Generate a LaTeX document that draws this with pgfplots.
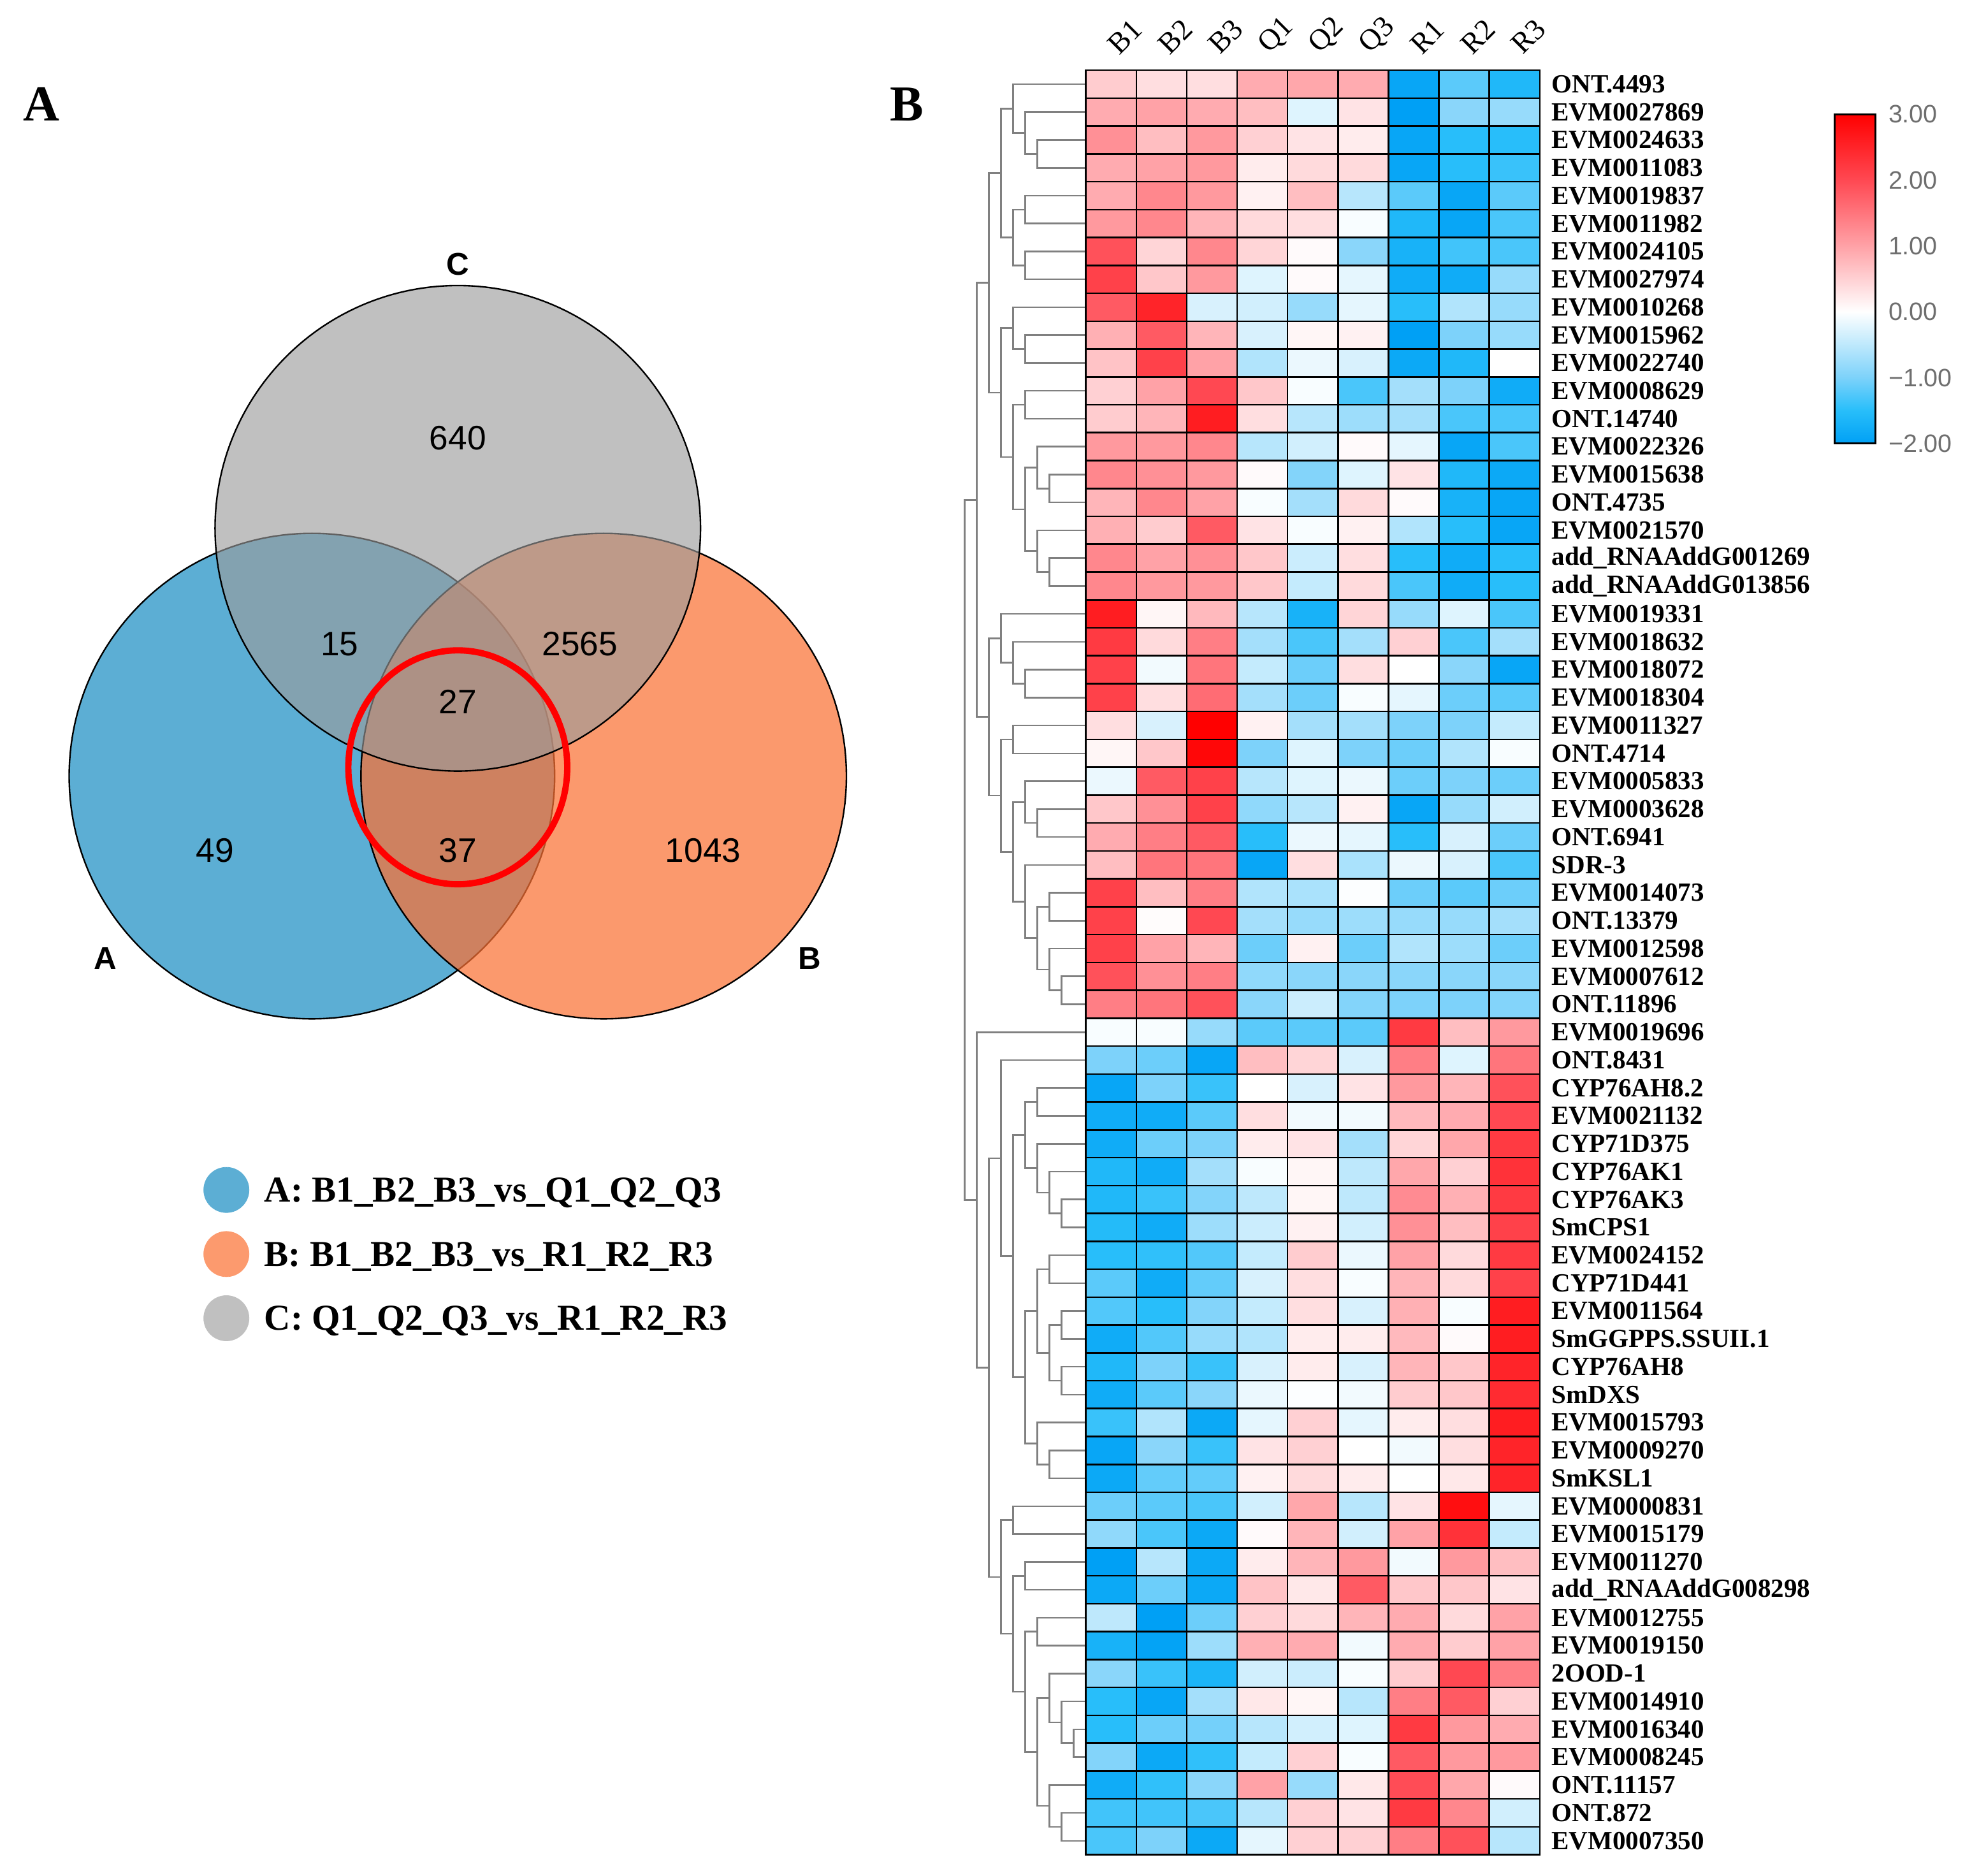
\documentclass[border=0pt]{standalone}
\usepackage{fontspec}
\setmainfont{Liberation Serif}
\newfontfamily\arial{Liberation Sans}
\usepackage{pgfplots}
\usepackage{pgfplotstable}
\pgfplotsset{compat=1.18}

\definecolor{vennA}{RGB}{92,174,212}
\definecolor{vennB}{RGB}{250,113,52}
\definecolor{vennC}{RGB}{155,155,155}
\definecolor{legA}{RGB}{92,174,212}
\definecolor{legB}{RGB}{252,154,110}
\definecolor{legC}{RGB}{192,192,192}
\definecolor{dgray}{RGB}{128,128,128}
\definecolor{tickgray}{RGB}{110,110,110}

\newcommand{\fs}[1]{\fontsize{#1}{#1}\selectfont}

\pgfplotsset{
  hmap/.style={colormap={hm}{rgb255(0pt)=(0,160,245); rgb255(0.5pt)=(40,190,250); rgb255(1pt)=(125,210,250);
      rgb255(2pt)=(255,255,255); rgb255(3pt)=(255,162,167); rgb255(4pt)=(255,72,82); rgb255(5pt)=(255,0,0)},
    point meta min=-2, point meta max=3},
}

% z-scores, one line per gene (row 1 = top of heatmap)
\pgfplotstableread{
row B1 B2 B3 Q1 Q2 Q3 R1 R2 R3
1 0.55 0.35 0.35 0.9 0.95 0.9 -1.9 -1.2 -1.6
2 0.9 1.0 0.9 0.7 -0.25 0.3 -2.1 -0.9 -0.8
3 1.2 0.7 1.1 0.5 0.3 0.2 -1.9 -1.5 -1.5
4 0.9 1.0 1.1 0.2 0.4 0.4 -1.9 -1.5 -1.4
5 0.9 1.3 1.1 0.15 0.7 -0.55 -1.2 -1.9 -1.2
6 1.1 1.3 0.8 0.4 0.35 -0.05 -1.6 -1.9 -1.3
7 1.9 0.45 1.3 0.45 0.05 -0.9 -1.7 -1.35 -1.3
8 2.1 0.6 1.1 -0.25 0.05 -0.2 -1.8 -1.8 -0.8
9 1.8 2.5 -0.3 -0.35 -0.8 -0.2 -1.5 -0.6 -0.8
10 0.85 1.8 0.8 -0.3 0.1 0.15 -2.0 -1.0 -0.8
11 0.65 2.1 1.0 -0.6 -0.15 -0.3 -1.85 -1.6 0.0
12 0.5 1.0 2.0 0.6 -0.05 -1.3 -0.7 -1.0 -1.8
13 0.55 0.8 2.6 0.35 -0.55 -0.75 -0.7 -1.3 -1.3
14 1.1 1.1 1.3 -0.55 -0.35 0.05 -0.2 -1.9 -1.3
15 1.3 1.2 1.1 0.05 -0.95 -0.25 0.3 -1.6 -1.85
16 0.8 1.3 1.0 -0.05 -0.7 0.4 0.05 -1.7 -1.9
17 0.85 0.55 1.8 0.3 -0.05 0.15 -0.6 -1.5 -1.9
18 1.3 1.0 1.2 0.6 -0.4 0.35 -1.5 -1.8 -1.5
19 1.3 1.1 1.1 0.6 -0.45 0.4 -1.3 -1.8 -1.5
20 2.6 0.1 0.75 -0.55 -1.7 0.45 -0.8 -0.25 -1.3
21 2.2 0.4 1.4 -0.7 -1.3 -0.7 0.5 -1.3 -0.7
22 2.1 -0.1 1.5 -0.45 -1.1 0.35 0.0 -0.9 -1.9
23 2.1 0.35 1.6 -0.7 -1.1 -0.05 -0.2 -1.1 -1.2
24 0.35 -0.3 3.0 0.15 -0.7 -0.7 -1.0 -1.0 -0.45
25 0.1 0.6 2.9 -1.0 -0.25 -1.0 -1.1 -0.6 -0.05
26 -0.15 1.8 2.1 -0.55 -0.25 -0.15 -1.1 -1.0 -1.1
27 0.6 1.2 2.1 -0.85 -0.55 0.15 -1.9 -0.8 -0.35
28 0.9 1.4 1.8 -1.5 -0.15 -0.2 -1.5 -0.3 -1.1
29 0.7 1.5 1.5 -1.9 0.35 -0.65 -0.15 -0.3 -1.3
30 2.1 0.7 1.4 -0.6 -0.65 -0.02 -1.1 -1.2 -1.1
31 2.1 0.03 2.0 -0.7 -0.8 -0.75 -0.8 -0.8 -0.7
32 2.1 1.0 0.8 -1.1 0.15 -1.1 -0.6 -0.75 -1.1
33 1.9 1.2 1.4 -0.85 -0.9 -0.9 -0.9 -0.9 -0.9
34 1.4 1.5 1.9 -0.9 -0.4 -0.95 -1.0 -1.0 -0.95
35 -0.05 -0.05 -0.8 -1.2 -1.2 -1.2 2.2 0.7 1.1
36 -1.0 -1.1 -1.9 0.7 0.45 -0.3 1.4 -0.25 1.5
37 -1.9 -1.0 -1.4 0.0 -0.3 0.3 1.1 0.8 1.9
38 -1.8 -1.8 -1.2 0.35 -0.1 -0.1 0.75 0.9 2.0
39 -1.8 -1.1 -1.0 0.2 0.3 -0.7 0.45 0.95 2.2
40 -1.6 -1.8 -0.7 -0.05 0.1 -0.5 0.95 0.5 2.3
41 -1.6 -1.4 -0.95 -0.5 0.1 -0.5 1.25 0.85 2.2
42 -1.55 -1.8 -0.75 -0.4 0.15 -0.35 1.2 0.7 2.1
43 -1.5 -1.45 -1.25 -0.45 0.55 -0.15 1.0 0.4 2.2
44 -1.2 -1.8 -1.15 -0.3 0.35 -0.05 0.8 0.4 2.1
45 -1.25 -1.5 -0.95 -0.45 0.35 -0.3 0.85 -0.05 2.6
46 -1.8 -1.25 -0.8 -0.6 0.2 0.2 0.75 0.05 2.6
47 -1.6 -1.0 -1.4 -0.3 0.2 -0.3 0.8 0.6 2.5
48 -1.8 -1.2 -0.9 -0.15 -0.02 -0.1 0.55 0.6 2.4
49 -1.4 -0.6 -1.85 -0.2 0.5 -0.2 0.2 0.35 2.6
50 -1.9 -0.9 -1.4 0.3 0.5 0.0 -0.1 0.35 2.5
51 -1.85 -1.15 -1.15 0.15 0.4 0.2 0.0 0.25 2.5
52 -1.1 -1.2 -1.3 -0.35 0.95 -0.55 0.3 2.8 -0.2
53 -0.85 -1.3 -1.85 0.05 0.8 -0.35 1.0 2.3 -0.45
54 -2.0 -0.55 -1.85 0.2 0.8 1.1 -0.1 1.1 0.7
55 -1.85 -1.1 -1.85 0.65 0.25 1.8 0.6 0.6 0.3
56 -0.5 -2.1 -1.1 0.5 0.4 0.8 0.9 0.4 1.0
57 -1.7 -1.95 -0.75 0.85 0.9 -0.1 0.9 0.55 1.0
58 -0.9 -1.4 -1.65 -0.35 -0.4 -0.05 0.55 2.0 1.4
59 -1.5 -1.9 -0.7 0.25 0.1 -0.55 1.4 1.8 0.5
60 -1.5 -1.1 -1.05 -0.55 -0.35 -0.25 2.2 1.1 0.9
61 -0.95 -1.85 -1.45 -0.45 0.5 -0.05 1.8 1.1 1.1
62 -1.8 -1.45 -0.9 1.0 -0.8 0.25 1.95 0.95 0.05
63 -1.35 -1.35 -1.3 -0.55 0.5 0.3 2.2 1.3 -0.35
64 -1.3 -1.0 -1.85 -0.2 0.5 0.5 1.4 1.9 -0.55
}\hm

\begin{document}
\begin{tikzpicture}[x=1pt,y=1pt]
\useasboundingbox (0,0) rectangle (1568,-1491);
\coordinate (cbpos) at (1458.6,-90.8);

% ---- panel A: Venn diagram (canvas axis, 1 unit = 1pt, y downwards)
\begin{axis}[at={(0pt,0pt)}, anchor=north west, scale only axis,
    width=1568pt, height=1491pt, xmin=0, xmax=1568, ymin=0, ymax=1491,
    y dir=reverse, hide axis, clip=false]
\addplot[only marks, mark=*, mark size=193pt,
    mark options={draw=black, fill=vennA, line width=1.2pt}] coordinates {(248,617)};
\addplot[only marks, mark=*, mark size=193pt,
    mark options={draw=black, fill=vennB, fill opacity=0.72, line width=1.2pt}] coordinates {(480,617)};
\addplot[only marks, mark=*, mark size=193pt,
    mark options={draw=black, fill=vennC, fill opacity=0.632, line width=1.2pt}] coordinates {(364,420)};
\addplot[only marks, mark=o, mark size=90pt,
    mark options={draw=red, line width=5pt, xscale=0.967, yscale=1.033}] coordinates {(364,610)};
% legend dots
\addplot[only marks, mark=*, mark size=18pt, mark options={draw=legA, fill=legA}] coordinates {(180,946)};
\addplot[only marks, mark=*, mark size=18pt, mark options={draw=legB, fill=legB}] coordinates {(180,997)};
\addplot[only marks, mark=*, mark size=18pt, mark options={draw=legC, fill=legC}] coordinates {(180,1048)};
\end{axis}

% Venn texts, on top of the circles (picture coords: x right, -y down)
\begin{scope}[font=\arial\fs{27}]
\node at (364,-348) {640};
\node at (270,-512) {15};
\node at (461,-512) {2565};
\node at (364,-558) {27};
\node at (171,-676) {49};
\node at (364,-676) {37};
\node at (559,-676) {1043};
\end{scope}
\node[font=\arial\bfseries\fs{25}] at (364,-210) {C};
\node[font=\arial\bfseries\fs{25}] at (84,-762) {A};
\node[font=\arial\bfseries\fs{25}] at (644,-762) {B};
\node[font=\bfseries\fs{40}] at (33,-83) {A};
\node[font=\bfseries\fs{40}] at (721,-83) {B};
\node[anchor=base west, inner sep=0pt, font=\bfseries\fs{29}] at (210,-955.6) {A: B1\_B2\_B3\_vs\_Q1\_Q2\_Q3};
\node[anchor=base west, inner sep=0pt, font=\bfseries\fs{29}] at (210,-1006.6) {B: B1\_B2\_B3\_vs\_R1\_R2\_R3};
\node[anchor=base west, inner sep=0pt, font=\bfseries\fs{29}] at (210,-1057.6) {C: Q1\_Q2\_Q3\_vs\_R1\_R2\_R3};

% ---- panel B: row dendrogram
\begin{axis}[at={(863.4pt,-55.8pt)}, anchor=north east, scale only axis,
    width=96.4pt, height=1418.8pt, xmin=0, xmax=10, x dir=reverse,
    ymin=0.5, ymax=64.5, y dir=reverse, hide axis, clip=false]
\addplot[dgray, line width=1.3pt, no markers, unbounded coords=jump] coordinates {
(0,3) (4,3) (4,4) (0,4) (nan,nan)
(0,2) (5,2) (5,3.5) (4,3.5) (nan,nan)
(0,1) (6,1) (6,2.75) (5,2.75) (nan,nan)
(0,5) (5,5) (5,6) (0,6) (nan,nan)
(0,7) (5,7) (5,8) (0,8) (nan,nan)
(5,5.5) (6,5.5) (6,7.5) (5,7.5) (nan,nan)
(6,1.875) (7,1.875) (7,6.5) (6,6.5) (nan,nan)
(0,10) (5,10) (5,11) (0,11) (nan,nan)
(0,9) (6,9) (6,10.5) (5,10.5) (nan,nan)
(0,12) (5,12) (5,13) (0,13) (nan,nan)
(0,15) (3,15) (3,16) (0,16) (nan,nan)
(0,14) (4,14) (4,15.5) (3,15.5) (nan,nan)
(0,18) (3,18) (3,19) (0,19) (nan,nan)
(0,17) (4,17) (4,18.5) (3,18.5) (nan,nan)
(4,14.75) (5,14.75) (5,17.75) (4,17.75) (nan,nan)
(5,12.5) (6,12.5) (6,16.25) (5,16.25) (nan,nan)
(6,9.75) (7,9.75) (7,14.375) (6,14.375) (nan,nan)
(7,4.1875) (8,4.1875) (8,12.0625) (7,12.0625) (nan,nan)
(0,22) (5,22) (5,23) (0,23) (nan,nan)
(0,21) (6,21) (6,22.5) (5,22.5) (nan,nan)
(0,20) (7,20) (7,21.75) (6,21.75) (nan,nan)
(0,24) (6,24) (6,25) (0,25) (nan,nan)
(0,27) (4,27) (4,28) (0,28) (nan,nan)
(0,26) (5,26) (5,27.5) (4,27.5) (nan,nan)
(0,30) (3,30) (3,31) (0,31) (nan,nan)
(0,33) (2,33) (2,34) (0,34) (nan,nan)
(0,32) (3,32) (3,33.5) (2,33.5) (nan,nan)
(3,30.5) (4,30.5) (4,32.75) (3,32.75) (nan,nan)
(0,29) (5,29) (5,31.625) (4,31.625) (nan,nan)
(5,26.75) (6,26.75) (6,30.3125) (5,30.3125) (nan,nan)
(6,24.5) (7,24.5) (7,28.53125) (6,28.53125) (nan,nan)
(7,20.875) (8,20.875) (8,26.515625) (7,26.515625) (nan,nan)
(8,8.125) (9,8.125) (9,23.6953125) (8,23.6953125) (nan,nan)
(0,37) (4,37) (4,38) (0,38) (nan,nan)
(0,41) (2,41) (2,42) (0,42) (nan,nan)
(0,40) (3,40) (3,41.5) (2,41.5) (nan,nan)
(0,39) (4,39) (4,40.75) (3,40.75) (nan,nan)
(4,37.5) (5,37.5) (5,39.875) (4,39.875) (nan,nan)
(0,43) (3,43) (3,44) (0,44) (nan,nan)
(0,45) (2,45) (2,46) (0,46) (nan,nan)
(0,47) (2,47) (2,48) (0,48) (nan,nan)
(2,45.5) (3,45.5) (3,47.5) (2,47.5) (nan,nan)
(3,43.5) (4,43.5) (4,46.5) (3,46.5) (nan,nan)
(0,50) (3,50) (3,51) (0,51) (nan,nan)
(0,49) (4,49) (4,50.5) (3,50.5) (nan,nan)
(4,45) (5,45) (5,49.75) (4,49.75) (nan,nan)
(5,38.6875) (6,38.6875) (6,47.375) (5,47.375) (nan,nan)
(0,36) (7,36) (7,43.03125) (6,43.03125) (nan,nan)
(0,52) (6,52) (6,53) (0,53) (nan,nan)
(0,54) (5,54) (5,55) (0,55) (nan,nan)
(0,56) (4,56) (4,57) (0,57) (nan,nan)
(0,60) (1,60) (1,61) (0,61) (nan,nan)
(0,59) (2,59) (2,60.5) (1,60.5) (nan,nan)
(0,58) (3,58) (3,59.75) (2,59.75) (nan,nan)
(0,63) (2,63) (2,64) (0,64) (nan,nan)
(0,62) (3,62) (3,63.5) (2,63.5) (nan,nan)
(3,58.875) (4,58.875) (4,62.75) (3,62.75) (nan,nan)
(4,56.5) (5,56.5) (5,60.8125) (4,60.8125) (nan,nan)
(5,54.5) (6,54.5) (6,58.65625) (5,58.65625) (nan,nan)
(6,52.5) (7,52.5) (7,56.578125) (6,56.578125) (nan,nan)
(7,39.515625) (8,39.515625) (8,54.5390625) (7,54.5390625) (nan,nan)
(0,35) (9,35) (9,47.02734375) (8,47.02734375) (nan,nan)
(9,15.91015625) (10,15.91015625) (10,41.013671875) (9,41.013671875)
};
\end{axis}

% ---- panel B: heatmap
\begin{axis}[hmap, at={(863.4pt,-55.8pt)}, anchor=north west, scale only axis,
    width=360.9pt, height=1418.8pt,
    xmin=-0.5, xmax=8.5, ymin=0.5, ymax=64.5, clip=false,
    axis line style={draw=none}, major tick length=0pt,
    xtick={0,...,8}, xticklabels={B1,B2,B3,Q1,Q2,Q3,R1,R2,R3},
    xticklabel pos=right,
    xticklabel style={font=\fs{23.5}, inner sep=0pt, anchor=west, yshift=17pt, xshift=1pt, rotate=45},
    ytick={1,...,64},
    yticklabels={EVM0007350,ONT.872,ONT.11157,EVM0008245,EVM0016340,EVM0014910,2OOD-1,EVM0019150,
      EVM0012755,add\_RNAAddG008298,EVM0011270,EVM0015179,EVM0000831,SmKSL1,EVM0009270,EVM0015793,
      SmDXS,CYP76AH8,SmGGPPS.SSUII.1,EVM0011564,CYP71D441,EVM0024152,SmCPS1,CYP76AK3,
      CYP76AK1,CYP71D375,EVM0021132,CYP76AH8.2,ONT.8431,EVM0019696,ONT.11896,EVM0007612,
      EVM0012598,ONT.13379,EVM0014073,SDR-3,ONT.6941,EVM0003628,EVM0005833,ONT.4714,
      EVM0011327,EVM0018304,EVM0018072,EVM0018632,EVM0019331,add\_RNAAddG013856,add\_RNAAddG001269,EVM0021570,
      ONT.4735,EVM0015638,EVM0022326,ONT.14740,EVM0008629,EVM0022740,EVM0015962,EVM0010268,
      EVM0027974,EVM0024105,EVM0011982,EVM0019837,EVM0011083,EVM0024633,EVM0027869,ONT.4493},
    yticklabel pos=right,
    yticklabel style={font=\bfseries\fs{20.8}, inner sep=0pt, anchor=west, xshift=9.3pt},
    scatter/use mapped color={draw=black, fill=mapped color},
    mark size=11.085pt]
\addplot[scatter, only marks, mark=square*, point meta=explicit, mark options={xscale=1.8094, line width=1.3pt}]
  table[x expr=0, y expr=65-\thisrow{row}, meta=B1] {\hm};
\addplot[scatter, only marks, mark=square*, point meta=explicit, mark options={xscale=1.8094, line width=1.3pt}]
  table[x expr=1, y expr=65-\thisrow{row}, meta=B2] {\hm};
\addplot[scatter, only marks, mark=square*, point meta=explicit, mark options={xscale=1.8094, line width=1.3pt}]
  table[x expr=2, y expr=65-\thisrow{row}, meta=B3] {\hm};
\addplot[scatter, only marks, mark=square*, point meta=explicit, mark options={xscale=1.8094, line width=1.3pt}]
  table[x expr=3, y expr=65-\thisrow{row}, meta=Q1] {\hm};
\addplot[scatter, only marks, mark=square*, point meta=explicit, mark options={xscale=1.8094, line width=1.3pt}]
  table[x expr=4, y expr=65-\thisrow{row}, meta=Q2] {\hm};
\addplot[scatter, only marks, mark=square*, point meta=explicit, mark options={xscale=1.8094, line width=1.3pt}]
  table[x expr=5, y expr=65-\thisrow{row}, meta=Q3] {\hm};
\addplot[scatter, only marks, mark=square*, point meta=explicit, mark options={xscale=1.8094, line width=1.3pt}]
  table[x expr=6, y expr=65-\thisrow{row}, meta=R1] {\hm};
\addplot[scatter, only marks, mark=square*, point meta=explicit, mark options={xscale=1.8094, line width=1.3pt}]
  table[x expr=7, y expr=65-\thisrow{row}, meta=R2] {\hm};
\addplot[scatter, only marks, mark=square*, point meta=explicit, mark options={xscale=1.8094, line width=1.3pt}]
  table[x expr=8, y expr=65-\thisrow{row}, meta=R3] {\hm};
\end{axis}

% ---- colour key
\begin{axis}[hmap, at={(cbpos)}, anchor=north west, scale only axis,
    width=32.8pt, height=261.8pt, xmin=0, xmax=1, ymin=-2, ymax=3,
    xtick=\empty, ytick={-2,-1,0,1,2,3},
    yticklabels={−2.00,−1.00,0.00,1.00,2.00,3.00},
    yticklabel pos=right,
    yticklabel style={font=\arial\fs{20}, color=tickgray, inner sep=0pt, anchor=west, xshift=10pt},
    major tick length=0pt, axis on top,
    axis line style={draw=black, line width=1.5pt}]
\addplot[surf, shader=interp, mesh/cols=2, point meta=y] coordinates {
  (0,-2) (1,-2) (0,-1.5) (1,-1.5) (0,-1) (1,-1) (0,0) (1,0) (0,1) (1,1) (0,2) (1,2) (0,3) (1,3)};
\end{axis}
\end{tikzpicture}
\end{document}
